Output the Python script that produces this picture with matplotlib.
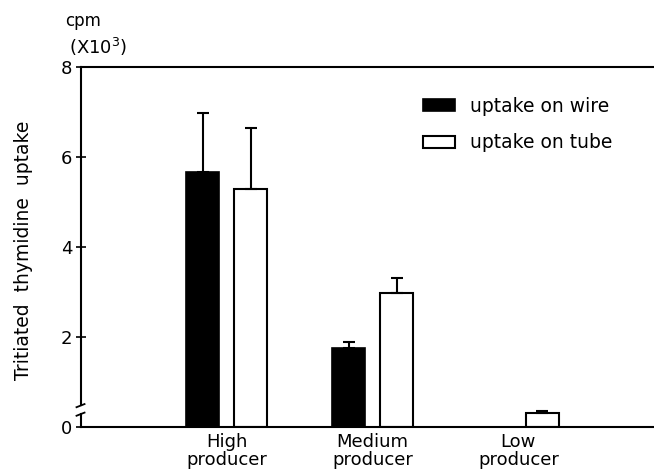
import numpy as np
import matplotlib.pyplot as plt

# data (cpm x 10^3)
groups = ['High\nproducer', 'Medium\nproducer', 'Low\nproducer']
wire = [5.67, 1.76, 0.0]
wire_err = [1.31, 0.13, 0.0]
tube = [5.29, 2.98, 0.31]
tube_err = [1.35, 0.33, 0.05]
yticks = [0, 2, 4, 6, 8]

plt.rcParams['font.family'] = 'DejaVu Sans'

fig = plt.figure(figsize=(6.54, 4.70), dpi=100)
ax = fig.add_axes([0.124, 0.0915, 0.876, 0.7655])

x = np.arange(len(groups))
off = 0.165
w = 0.227

ax.bar(x - off, wire, w, color='black', edgecolor='black', linewidth=1.2,
       label='uptake on wire')
ax.bar(x + off, tube, w, color='white', edgecolor='black', linewidth=1.5,
       label='uptake on tube')

# upward-only error bars
for xs, vals, errs in [(x - off, wire, wire_err), (x + off, tube, tube_err)]:
    for xi, v, e in zip(xs, vals, errs):
        if v <= 0:
            continue
        ax.errorbar(xi, v, yerr=[[0], [e]], fmt='none', ecolor='black',
                    elinewidth=1.5, capsize=4, capthick=1.5)

ax.set_xlim(-1.0, 2.93)
ax.set_ylim(0, 8)

# spines: top and bottom full lines, left spine broken near zero
ax.spines['right'].set_visible(False)
ax.spines['left'].set_visible(False)
ax.spines['top'].set_linewidth(1.5)
ax.spines['bottom'].set_linewidth(1.5)
tr = ax.get_yaxis_transform()
ax.plot([0, 0], [0, 0.28], color='black', lw=1.5, transform=tr, clip_on=False)
ax.plot([0, 0], [0.48, 8], color='black', lw=1.5, transform=tr, clip_on=False)
ax.plot([-0.008, 0.006], [0.25, 0.32], color='black', lw=1.3, transform=tr, clip_on=False)
ax.plot([-0.008, 0.006], [0.44, 0.51], color='black', lw=1.3, transform=tr, clip_on=False)

ax.set_yticks(yticks)
ax.set_yticklabels([str(t) for t in yticks], fontsize=13)
ax.tick_params(axis='y', direction='inout', length=7, width=1.2, pad=3)
ax.set_xticks(x)
ax.set_xticklabels(groups, fontsize=13, linespacing=1.0)
ax.tick_params(axis='x', length=0, pad=4)

ax.set_ylabel('Tritiated  thymidine  uptake', fontsize=13.5)
ax.yaxis.set_label_coords(-0.084, 0.49)

fig.text(0.10, 0.945, 'cpm', fontsize=12, ha='left', va='baseline')
fig.text(0.105, 0.885, '(X10$^3$)', fontsize=13, ha='left', va='baseline')

ax.legend(loc='upper left', bbox_to_anchor=(0.567, 0.965), frameon=False,
          fontsize=13.5, handlelength=1.7, handleheight=0.55, labelspacing=0.95,
          handletextpad=0.8)

fig.savefig('out.png', dpi=100)
